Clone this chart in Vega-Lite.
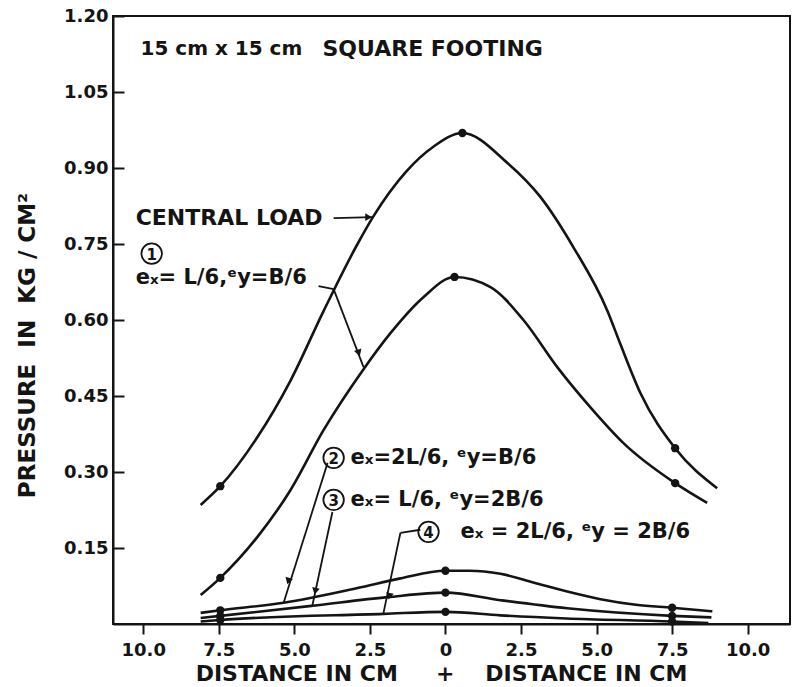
{
  "$schema": "https://vega.github.io/schema/vega-lite/v6.json",
  "width": 677,
  "height": 608,
  "autosize": "none",
  "padding": {"left": 113, "top": 16, "right": 11, "bottom": 63},
  "background": "white",
  "config": {
    "view": {"stroke": "#141414", "strokeWidth": 2},
    "font": "DejaVu Sans",
    "axis": {
      "labelFont": "DejaVu Sans",
      "labelFontWeight": "bold",
      "labelColor": "#141414",
      "titleFont": "DejaVu Sans",
      "titleFontWeight": "bold",
      "titleColor": "#141414",
      "domainColor": "#141414",
      "domainWidth": 2,
      "tickColor": "#141414",
      "tickWidth": 2,
      "grid": false
    }
  },
  "datasets": {
    "curves": [
      {"s": "central", "x": -8.1, "y": 0.235, "m": 0},
      {"s": "central", "x": -7.45, "y": 0.272, "m": 1},
      {"s": "central", "x": -6.22, "y": 0.369, "m": 0},
      {"s": "central", "x": -5.13, "y": 0.48, "m": 0},
      {"s": "central", "x": -4.03, "y": 0.618, "m": 0},
      {"s": "central", "x": -2.91, "y": 0.75, "m": 0},
      {"s": "central", "x": -2.38, "y": 0.805, "m": 0},
      {"s": "central", "x": -1.3, "y": 0.893, "m": 0},
      {"s": "central", "x": -0.4, "y": 0.942, "m": 0},
      {"s": "central", "x": 0.56, "y": 0.969, "m": 1},
      {"s": "central", "x": 2.05, "y": 0.91, "m": 0},
      {"s": "central", "x": 3.14, "y": 0.843, "m": 0},
      {"s": "central", "x": 4.23, "y": 0.744, "m": 0},
      {"s": "central", "x": 5.36, "y": 0.618, "m": 0},
      {"s": "central", "x": 5.79, "y": 0.552, "m": 0},
      {"s": "central", "x": 6.45, "y": 0.456, "m": 0},
      {"s": "central", "x": 7.6, "y": 0.347, "m": 1},
      {"s": "central", "x": 8.99, "y": 0.268, "m": 0},

      {"s": "e1", "x": -8.1, "y": 0.057, "m": 0},
      {"s": "e1", "x": -7.45, "y": 0.091, "m": 1},
      {"s": "e1", "x": -6.22, "y": 0.172, "m": 0},
      {"s": "e1", "x": -5.13, "y": 0.264, "m": 0},
      {"s": "e1", "x": -4.03, "y": 0.383, "m": 0},
      {"s": "e1", "x": -2.71, "y": 0.503, "m": 0},
      {"s": "e1", "x": -1.82, "y": 0.574, "m": 0},
      {"s": "e1", "x": -0.73, "y": 0.645, "m": 0},
      {"s": "e1", "x": 0.3, "y": 0.685, "m": 1},
      {"s": "e1", "x": 1.49, "y": 0.665, "m": 0},
      {"s": "e1", "x": 2.58, "y": 0.6, "m": 0},
      {"s": "e1", "x": 3.7, "y": 0.507, "m": 0},
      {"s": "e1", "x": 4.79, "y": 0.428, "m": 0},
      {"s": "e1", "x": 5.89, "y": 0.357, "m": 0},
      {"s": "e1", "x": 7.6, "y": 0.278, "m": 1},
      {"s": "e1", "x": 8.66, "y": 0.239, "m": 0},

      {"s": "e2", "x": -8.1, "y": 0.022, "m": 0},
      {"s": "e2", "x": -7.45, "y": 0.027, "m": 1},
      {"s": "e2", "x": -5.35, "y": 0.042, "m": 0},
      {"s": "e2", "x": -2.91, "y": 0.071, "m": 0},
      {"s": "e2", "x": -1.49, "y": 0.09, "m": 0},
      {"s": "e2", "x": 0.0, "y": 0.105, "m": 1},
      {"s": "e2", "x": 0.8, "y": 0.105, "m": 0},
      {"s": "e2", "x": 1.82, "y": 0.099, "m": 0},
      {"s": "e2", "x": 2.91, "y": 0.082, "m": 0},
      {"s": "e2", "x": 4.03, "y": 0.064, "m": 0},
      {"s": "e2", "x": 5.13, "y": 0.049, "m": 0},
      {"s": "e2", "x": 6.3, "y": 0.038, "m": 0},
      {"s": "e2", "x": 7.5, "y": 0.032, "m": 1},
      {"s": "e2", "x": 8.83, "y": 0.025, "m": 0},

      {"s": "e3", "x": -8.1, "y": 0.012, "m": 0},
      {"s": "e3", "x": -7.45, "y": 0.016, "m": 1},
      {"s": "e3", "x": -4.4, "y": 0.036, "m": 0},
      {"s": "e3", "x": -1.92, "y": 0.053, "m": 0},
      {"s": "e3", "x": 0.0, "y": 0.062, "m": 1},
      {"s": "e3", "x": 1.82, "y": 0.047, "m": 0},
      {"s": "e3", "x": 4.03, "y": 0.031, "m": 0},
      {"s": "e3", "x": 7.5, "y": 0.016, "m": 1},
      {"s": "e3", "x": 8.8, "y": 0.013, "m": 0},

      {"s": "e4", "x": -8.1, "y": 0.005, "m": 0},
      {"s": "e4", "x": -7.45, "y": 0.008, "m": 1},
      {"s": "e4", "x": -2.05, "y": 0.02, "m": 0},
      {"s": "e4", "x": 0.0, "y": 0.024, "m": 1},
      {"s": "e4", "x": 1.82, "y": 0.017, "m": 0},
      {"s": "e4", "x": 4.0, "y": 0.011, "m": 0},
      {"s": "e4", "x": 7.5, "y": 0.005, "m": 1},
      {"s": "e4", "x": 8.7, "y": 0.002, "m": 0}
    ],
    "notes": [
      {"g": "h1", "t": "15 cm x 15 cm", "x": -10.09, "y": 1.135},
      {"g": "h2", "t": "SQUARE FOOTING", "x": -4.07, "y": 1.135},
      {"g": "big", "t": "CENTRAL LOAD", "x": -10.25, "y": 0.801},
      {"g": "eq", "t": "eₓ= L/6,ᵉy=B/6", "x": -10.25, "y": 0.683},
      {"g": "eq", "t": "eₓ=2L/6, ᵉy=B/6", "x": -3.14, "y": 0.328},
      {"g": "eq", "t": "eₓ= L/6, ᵉy=2B/6", "x": -3.14, "y": 0.245},
      {"g": "eq", "t": "eₓ = 2L/6, ᵉy = 2B/6", "x": 0.5, "y": 0.182}
    ],
    "rings": [
      {"t": "1", "x": -9.72, "y": 0.731},
      {"t": "2", "x": -3.7, "y": 0.328},
      {"t": "3", "x": -3.7, "y": 0.245},
      {"t": "4", "x": -0.56, "y": 0.182}
    ],
    "leaders": [
      {"x": -3.7, "y": 0.801, "x2": -2.41, "y2": 0.803},
      {"x": -4.2, "y": 0.667, "x2": -3.7, "y2": 0.661},
      {"x": -3.7, "y": 0.661, "x2": -2.71, "y2": 0.507},
      {"x": -3.9, "y": 0.318, "x2": -5.36, "y2": 0.041},
      {"x": -3.74, "y": 0.221, "x2": -4.4, "y2": 0.0375},
      {"x": -0.83, "y": 0.186, "x2": -1.49, "y2": 0.18},
      {"x": -1.49, "y": 0.18, "x2": -2.05, "y2": 0.022}
    ],
    "heads": [
      {"x": -2.58, "y": 0.803, "dir": 90},
      {"x": -2.88, "y": 0.537, "dir": 162},
      {"x": -5.19, "y": 0.087, "dir": 197},
      {"x": -4.3, "y": 0.067, "dir": 192},
      {"x": -1.85, "y": 0.057, "dir": 192}
    ]
  },
  "layer": [
    {
      "data": {"name": "curves"},
      "mark": {"type": "line", "interpolate": "monotone", "color": "#141414", "strokeWidth": 2.6},
      "encoding": {
        "x": {
          "field": "x", "type": "quantitative",
          "scale": {"domain": [-11, 11.4], "nice": false, "zero": false},
          "axis": {
            "values": [-10, -7.5, -5, -2.5, 0, 2.5, 5, 7.5, 10],
            "labelExpr": "datum.value == 0 ? '0' : format(abs(datum.value), '.1f')",
            "labelFontSize": 18,
            "labelPadding": 7,
            "tickSize": 10,
            "title": "DISTANCE IN CM\u00a0\u00a0\u00a0\u00a0\u00a0+\u00a0\u00a0\u00a0\u00a0DISTANCE IN CM",
            "titleFontSize": 22,
            "titleX": 328,
            "titleY": 49,
            "titleAlign": "center",
            "titleBaseline": "middle"
          }
        },
        "y": {
          "field": "y", "type": "quantitative",
          "scale": {"domain": [0, 1.2], "nice": false},
          "axis": {
            "values": [0.15, 0.3, 0.45, 0.6, 0.75, 0.9, 1.05, 1.2],
            "format": ".2f",
            "labelFontSize": 18,
            "tickSize": -11,
            "labelPadding": 16,
            "title": "PRESSURE\u00a0\u00a0IN\u00a0\u00a0KG\u00a0/\u00a0CM²",
            "titleFontSize": 23,
            "titleAngle": 270,
            "titleX": -86,
            "titleY": 329,
            "titleAlign": "center",
            "titleBaseline": "middle"
          }
        },
        "detail": {"field": "s", "type": "nominal"}
      }
    },
    {
      "data": {"name": "curves"},
      "transform": [{"filter": "datum.m == 1"}],
      "mark": {"type": "point", "filled": true, "color": "#141414", "size": 70, "opacity": 1},
      "encoding": {
        "x": {"field": "x", "type": "quantitative"},
        "y": {"field": "y", "type": "quantitative"}
      }
    },
    {
      "data": {"name": "leaders"},
      "mark": {"type": "rule", "color": "#141414", "strokeWidth": 1.8},
      "encoding": {
        "x": {"field": "x", "type": "quantitative"},
        "y": {"field": "y", "type": "quantitative"},
        "x2": {"field": "x2"},
        "y2": {"field": "y2"}
      }
    },
    {
      "data": {"name": "heads"},
      "mark": {"type": "point", "shape": "triangle", "filled": true, "color": "#141414", "size": 60, "opacity": 1},
      "encoding": {
        "x": {"field": "x", "type": "quantitative"},
        "y": {"field": "y", "type": "quantitative"},
        "angle": {"field": "dir", "type": "quantitative", "scale": {"domain": [0, 360], "range": [0, 360]}}
      }
    },
    {
      "data": {"name": "rings"},
      "mark": {"type": "point", "shape": "circle", "filled": false, "color": "#141414", "strokeWidth": 1.8, "size": 420, "opacity": 1},
      "encoding": {
        "x": {"field": "x", "type": "quantitative"},
        "y": {"field": "y", "type": "quantitative"}
      }
    },
    {
      "data": {"name": "rings"},
      "mark": {"type": "text", "align": "center", "baseline": "middle", "font": "DejaVu Sans", "fontWeight": "bold", "fontSize": 15, "color": "#141414", "dy": 1},
      "encoding": {
        "x": {"field": "x", "type": "quantitative"},
        "y": {"field": "y", "type": "quantitative"},
        "text": {"field": "t"}
      }
    },
    {
      "data": {"name": "notes"},
      "transform": [{"filter": "datum.g == 'h1'"}],
      "mark": {"type": "text", "align": "left", "baseline": "middle", "font": "DejaVu Sans", "fontWeight": "bold", "fontSize": 20, "color": "#141414"},
      "encoding": {
        "x": {"field": "x", "type": "quantitative"},
        "y": {"field": "y", "type": "quantitative"},
        "text": {"field": "t"}
      }
    },
    {
      "data": {"name": "notes"},
      "transform": [{"filter": "datum.g == 'h2'"}],
      "mark": {"type": "text", "align": "left", "baseline": "middle", "font": "DejaVu Sans", "fontWeight": "bold", "fontSize": 22, "color": "#141414"},
      "encoding": {
        "x": {"field": "x", "type": "quantitative"},
        "y": {"field": "y", "type": "quantitative"},
        "text": {"field": "t"}
      }
    },
    {
      "data": {"name": "notes"},
      "transform": [{"filter": "datum.g == 'big'"}],
      "mark": {"type": "text", "align": "left", "baseline": "middle", "font": "DejaVu Sans", "fontWeight": "bold", "fontSize": 22, "color": "#141414"},
      "encoding": {
        "x": {"field": "x", "type": "quantitative"},
        "y": {"field": "y", "type": "quantitative"},
        "text": {"field": "t"}
      }
    },
    {
      "data": {"name": "notes"},
      "transform": [{"filter": "datum.g == 'eq'"}],
      "mark": {"type": "text", "align": "left", "baseline": "middle", "font": "DejaVu Sans", "fontWeight": "bold", "fontSize": 21, "color": "#141414"},
      "encoding": {
        "x": {"field": "x", "type": "quantitative"},
        "y": {"field": "y", "type": "quantitative"},
        "text": {"field": "t"}
      }
    }
  ]
}
